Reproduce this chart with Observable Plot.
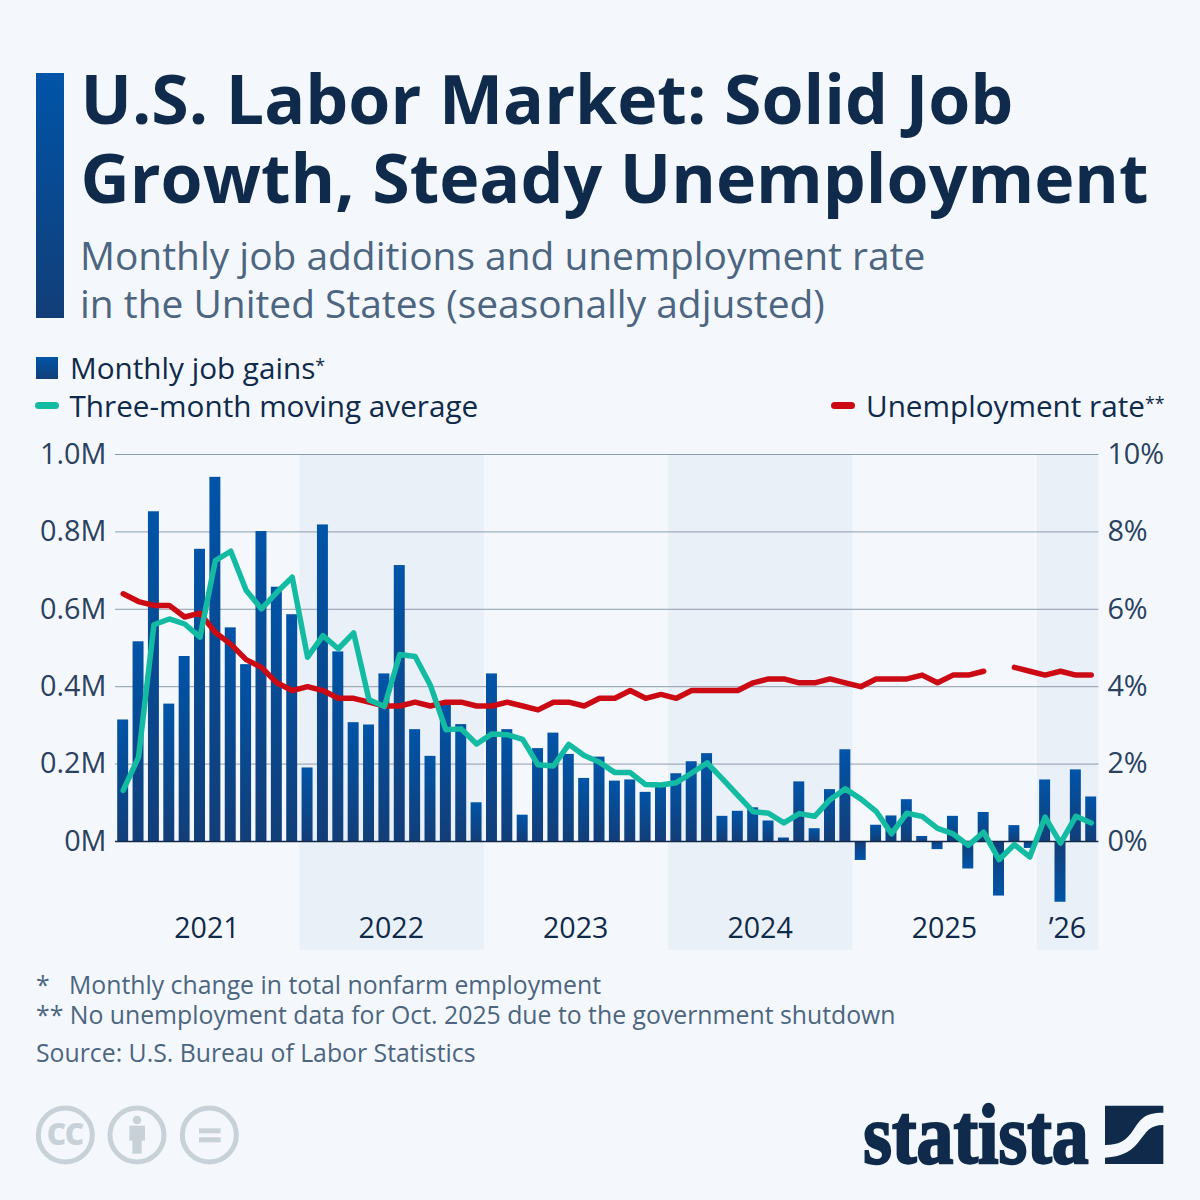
<!DOCTYPE html>
<html>
<head>
<meta charset="utf-8">
<script src="https://cdn.jsdelivr.net/npm/d3@7"></script>
<script src="https://cdn.jsdelivr.net/npm/@observablehq/plot@0.6"></script>
<style>
html,body{margin:0;padding:0;width:1200px;height:1200px;background:#f4f8fc;overflow:hidden;font-family:"Open Sans",sans-serif;}
.a{position:absolute;white-space:nowrap;}
#title{left:80.5px;top:58px;font-size:68px;line-height:79px;font-weight:700;color:#0f2a4a;}
#sub{left:80px;top:231px;font-size:38.9px;line-height:48px;color:#4c6580;}
#bar{left:36px;top:73px;width:28px;height:245px;background:linear-gradient(#0054a8,#123e78);}
.leg{font-size:29.7px;line-height:38px;color:#0f2a4a;}
.leg sup{font-size:.6em;line-height:0;vertical-align:.42em;}
.note{font-size:24.8px;line-height:30px;color:#4c6580;}
#chart{left:0;top:424px;}
</style>
</head>
<body>
<div class="a" id="bar"></div>
<div class="a" id="title">U.S. Labor Market: Solid Job<br>Growth, Steady Unemployment</div>
<div class="a" id="sub">Monthly job additions and unemployment rate<br>in the United States (seasonally adjusted)</div>

<div class="a" style="left:36px;top:357px;width:22px;height:22px;background:linear-gradient(#0054a8,#123e78)"></div>
<div class="a leg" style="left:70px;top:349px">Monthly job gains<sup>*</sup></div>
<div class="a" style="left:35px;top:402px;width:24px;height:7px;border-radius:4px;background:#14bba3"></div>
<div class="a leg" style="left:69.5px;top:387px">Three-month moving average</div>
<div class="a" style="left:831px;top:402px;width:24px;height:7px;border-radius:4px;background:#cc0a14"></div>
<div class="a leg" style="left:866px;top:387px">Unemployment rate<sup>**</sup></div>

<div class="a" id="chart"></div>

<div class="a note" style="left:36px;top:969px">*&nbsp;&nbsp;&nbsp;Monthly change in total nonfarm employment</div>
<div class="a note" style="left:36px;top:999px">** No unemployment data for Oct. 2025 due to the government shutdown</div>
<div class="a note" style="left:36px;top:1037px">Source: U.S. Bureau of Labor Statistics</div>

<svg class="a" style="left:0;top:1080px" width="260" height="110" viewBox="0 0 780 330">
  <g fill="none" stroke="#c9d1d8" stroke-width="15">
    <circle cx="196" cy="165" r="81"/><circle cx="411" cy="165" r="81"/><circle cx="628" cy="165" r="81"/>
  </g>
  <text x="194" y="196" text-anchor="middle" font-family="Open Sans" font-weight="800" font-size="90" letter-spacing="-5" fill="#c9d1d8">CC</text>
  <g fill="#c9d1d8">
    <circle cx="411" cy="120" r="13"/>
    <rect x="388" y="137" width="47" height="45"/><rect x="397" y="180" width="28" height="41"/>
    <rect x="597" y="145" width="65" height="15"/><rect x="597" y="172" width="65" height="15"/>
  </g>
</svg>

<svg class="a" style="left:850px;top:1060px" width="340" height="140" viewBox="0 -90 1020 420">
  <text x="40" y="219" font-family="Liberation Sans Narrow" font-weight="700" font-size="255" textLength="676" lengthAdjust="spacingAndGlyphs" fill="#0f2a4a" stroke="#0f2a4a" stroke-width="7">statista</text>
  <path fill="#0f2a4a" d="M765 47H940V68C880 68 870 90 850 120C830 150 810 165 765 165Z"/>
  <path fill="#0f2a4a" d="M940 105C900 105 890 125 870 150C850 180 820 200 765 203V222H940Z"/>
</svg>

<script>
// Monthly values, Jan 2021 to Apr 2026, in millions of jobs
const jobGains = [
  .314,.516,.852,.355,.478,.755,.941,.552,.457,.801,.657,.586,
  .190,.818,.490,.307,.301,.433,.713,.289,.220,.357,.302,.100,
  .433,.289,.068,.240,.280,.225,.163,.218,.156,.159,.127,.149,
  .175,.206,.227,.065,.078,.087,.053,.009,.154,.033,.134,.237,
  -.049,.042,.066,.108,.013,-.021,.065,-.071,.075,-.141,.041,-.018,
  .159,-.157,.185,.115
];
const movingAverage = [
  .132,.218,.560,.575,.562,.528,.726,.750,.649,.601,.644,.683,
  .476,.532,.498,.539,.366,.349,.483,.478,.403,.289,.291,.252,
  .278,.276,.264,.198,.195,.251,.222,.205,.178,.178,.147,.146,
  .152,.177,.203,.162,.119,.077,.073,.048,.072,.065,.108,.136,
  .110,.078,.020,.073,.065,.034,.020,-.010,.024,-.047,-.008,-.040,
  .063,-.004,.065,.048
];
// Percent; null = no data for Oct. 2025
const unemploymentRate = [
  6.4,6.2,6.1,6.1,5.8,5.9,5.4,5.1,4.7,4.5,4.1,3.9,
  4.0,3.9,3.7,3.7,3.6,3.5,3.5,3.6,3.5,3.6,3.6,3.5,
  3.5,3.6,3.5,3.4,3.6,3.6,3.5,3.7,3.7,3.9,3.7,3.8,
  3.7,3.9,3.9,3.9,3.9,4.1,4.2,4.2,4.1,4.1,4.2,4.1,
  4.0,4.2,4.2,4.2,4.3,4.1,4.3,4.3,4.4,null,4.5,4.4,
  4.3,4.4,4.3,4.3
];
const yearLabels = ["2021","2022","2023","2024","2025","’26"];
const monthsInYear = [12,12,12,12,12,4];
const shadedYears = ["2022","2024","’26"];
const yTicks = [0,.2,.4,.6,.8,1];

const months = jobGains.map((v,i)=>({i,v,ma:movingAverage[i],ur:unemploymentRate[i]==null?null:unemploymentRate[i]/10}));
let start=0;
const years = yearLabels.map((label,k)=>{const s=start;start+=monthsInYear[k];return {label,s,e:start};});

const ink="#0f2a4a", bottom=-0.2817;
const defs = () => {
  const ns="http://www.w3.org/2000/svg";
  const d=document.createElementNS(ns,"defs");
  d.innerHTML=`<linearGradient id="gUp" x1="0" y1="0" x2="0" y2="1"><stop offset="0" stop-color="#0054a8"/><stop offset="1" stop-color="#123e78"/></linearGradient>
  <linearGradient id="gDown" x1="0" y1="1" x2="0" y2="0"><stop offset="0" stop-color="#0054a8"/><stop offset="1" stop-color="#123e78"/></linearGradient>`;
  return d;
};

const chart = Plot.plot({
  width:1200, height:526,
  marginLeft:115, marginRight:101.6, marginTop:30, marginBottom:0,
  style:{background:"transparent",fontFamily:"Open Sans",color:ink},
  x:{domain:[0,64],axis:null},
  y:{domain:[bottom,1],axis:null},
  marks:[
    defs,
    Plot.rect(years.filter(y=>shadedYears.includes(y.label)),{x1:"s",x2:"e",y1:bottom,y2:1,fill:"#eaf0f7"}),
    Plot.ruleY(yTicks.slice(1),{stroke:"#8f9bac",strokeWidth:1}),
    Plot.rectY(months.filter(d=>d.v>=0),{x1:"i",x2:d=>d.i+1,y:"v",insetLeft:2.2,insetRight:2.2,fill:"url(#gUp)"}),
    Plot.rectY(months.filter(d=>d.v<0),{x1:"i",x2:d=>d.i+1,y:"v",insetLeft:2.2,insetRight:2.2,fill:"url(#gDown)"}),
    Plot.ruleY([0],{stroke:"#12294a",strokeWidth:1.5}),
    Plot.line(months,{x:d=>d.i+.5,y:"ur",stroke:"#cc0a14",strokeWidth:5.5,strokeLinecap:"round",strokeLinejoin:"round",curve:"linear"}),
    Plot.line(months,{x:d=>d.i+.5,y:"ma",stroke:"#14bba3",strokeWidth:5.5,strokeLinecap:"round",strokeLinejoin:"round",curve:"linear"}),
    Plot.axisY(yTicks,{anchor:"left",tickSize:0,tickPadding:9,fontSize:28.8,label:null,fill:"#2a4260",tickFormat:d=>d===0?"0M":d3.format(".1f")(d)+"M"}),
    Plot.axisY(yTicks,{anchor:"right",tickSize:0,tickPadding:8.5,fontSize:28.8,label:null,fill:"#2a4260",tickFormat:d=>Math.round(d*10)+"%"}),
    Plot.text(years,{x:d=>(d.s+d.e)/2-.05,y:-.2255,text:"label",fontSize:28.6,fill:ink,textAnchor:"middle"})
  ]
});
document.getElementById("chart").appendChild(chart);
</script>
</body>
</html>
